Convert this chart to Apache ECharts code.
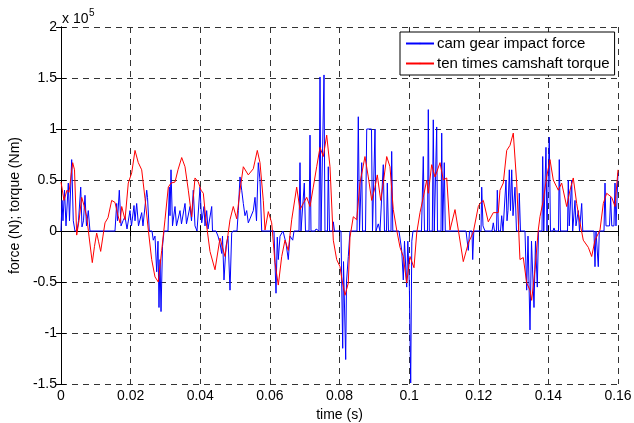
<!DOCTYPE html>
<html>
<head>
<meta charset="utf-8" />
<title>cam gear impact force</title>
<script src="https://cdn.jsdelivr.net/npm/echarts@6/dist/echarts.min.js"></script>
<style>
  html, body { margin: 0; padding: 0; background: #fff; }
  #main { width: 634px; height: 423px; }
</style>
</head>
<body>
<div id="main"></div>
<script>
// time in ms, values in units of 1e5
var forceTime = [0,0.29,0.57,1.01,1.44,2.10,2.44,3.07,3.53,4.02,4.60,5.03,5.66,6.03,6.46,6.89,7.32,7.84,8.33,
  15.51,16.00,16.23,16.75,17.24,17.81,18.39,18.96,19.82,20.25,20.97,21.26,21.74,22.26,23.18,23.55,24.62,24.85,25.13,25.36,
  26.14,26.51,27.00,27.49,27.86,28.15,28.44,28.73,29.16,29.59,
  30.74,31.11,31.31,31.60,32.03,32.75,33.18,34.18,34.61,35.62,36.05,37.06,37.49,38.00,38.49,39.07,
  39.93,40.42,41.08,41.36,41.85,42.23,43.29,43.52,44.52,45.10,45.67,46.16,46.39,46.82,47.40,47.97,48.55,49.03,49.41,
  50.56,50.93,51.42,51.91,52.37,52.85,53.34,53.80,54.29,55.24,55.73,56.16,56.67,57.16,57.65,
  61.18,61.76,62.13,62.42,62.91,63.77,64.63,65.29,65.78,66.56,66.93,
  68.37,68.65,68.94,69.51,69.89,70.23,71.24,71.53,71.81,72.96,73.25,74.11,74.40,74.69,75.26,75.55,75.83,
  76.55,76.78,77.13,77.99,78.22,78.56,
  80.43,80.63,80.92,81.15,81.43,81.78,82.01,82.53,83.02,
  85.03,85.40,85.75,86.03,86.38,86.61,87.47,87.82,89.19,89.48,90.05,90.20,90.48,91.14,91.63,92.58,92.92,
  93.50,93.73,94.07,94.79,94.99,95.31,
  97.09,97.87,98.33,98.67,99.30,99.62,100.05,100.45,100.77,101.11,
  103.55,104.07,104.41,105.28,105.51,105.80,106.66,106.94,107.23,107.72,107.92,108.15,109.16,109.36,109.64,
  109.96,110.10,110.39,
  116.34,117.00,117.35,118.06,118.26,118.58,
  120.65,120.85,121.22,121.80,123.81,124.18,124.52,125.10,125.33,125.67,126.25,126.59,126.97,
  127.54,127.83,128.12,128.40,128.78,129.12,129.47,129.84,130.41,130.84,131.42,131.65,131.99,
  133.28,133.77,134.15,134.72,135.15,135.87,136.30,136.82,137.16,
  138.17,138.37,138.68,139.11,139.31,139.60,140.03,140.26,140.60,141.32,141.61,141.90,142.91,143.13,143.48,
  145.49,145.72,146.00,146.50,146.70,146.98,147.36,147.65,147.93,148.59,148.94,149.37,149.57,149.88,
  153.10,153.39,153.68,154.11,154.34,154.63,
  155.98,156.27,156.55,157.56,157.89,158.21,158.84,159.14,159.42,159.71,160.0];
var forceValue = [0,0.3,0.1,0.4,0.05,0.47,0.1,0.7,0.1,0,0,0.1,0.43,0.04,0.1,0.35,0.05,0.2,0,
  0,0.27,0.1,0.4,0.05,0.1,0.14,0.02,0.2,0.05,0.25,0.1,0.27,0.05,0.18,0.05,0.4,0.33,0.33,0,
  0,-0.09,-0.05,-0.4,-0.1,-0.75,-0.28,-0.79,-0.15,0,
  0,0.43,0.15,0.6,0.05,0.24,0.05,0.2,0.07,0.27,0.07,0.24,0.1,0.4,0.05,0,
  0.43,0.08,0.24,0.05,0.2,0.02,0.24,0,0,-0.05,-0.12,-0.22,-0.05,-0.48,-0.15,-0.05,-0.58,-0.02,0,
  0,0.2,0.53,0.4,0.27,0.15,0.2,0.08,0.12,0.2,0.33,0.1,0.67,0.5,0,
  0,-0.61,-0.06,-0.28,-0.05,0,-0.12,-0.28,-0.05,-0.09,0,
  0,0.67,0,0,0.47,0,0,0.94,0,0,0.02,0,1.51,0,0,1.53,0,
  0,0.63,0,0,0.09,0,
  0,-0.51,-1.15,-0.3,-0.3,-1.26,-0.5,-0.25,0,
  0,1.12,0,0,0.67,0,0,1.0,1.0,0,0,1.0,0,0.07,0,0.65,0,
  0,0.47,0,0,0.78,0,
  0,-0.19,-0.48,-0.1,-0.55,-0.1,-0.51,-1.49,-0.1,0,
  0,0.73,0,0,1.19,0,0,1.09,0,0,1.02,0,0,0.96,0,
  0,0.67,0,
  0,-0.19,0,0,-0.28,0,
  0,0.43,0.05,0,0,0.08,0,0,0.4,0,0,0.15,0,
  0,0.5,0.1,0.2,0.6,0.2,0.6,0.15,0.43,0,0,0.37,0,
  0,-0.58,-0.05,-0.97,-0.1,-0.75,-0.1,-0.55,0,
  0,0.73,0,0,0.82,0,0,0.92,0,0,0.03,0,0,0.7,0,
  0,0.5,0.05,0.05,0.5,0,0,0.3,0.05,0.2,0,0,0.27,0,
  0,-0.35,0,0,-0.35,0,
  0,0.47,0.05,0.05,0.33,0.05,0.05,0.47,0.05,0.05,0.57];

var torqueTime = [0,0.86,1.72,2.30,3.36,3.88,4.51,5.17,5.95,6.61,7.38,8.04,8.99,9.62,10.25,10.77,11.40,12.06,12.64,13.50,
  14.56,15.51,16.37,16.95,17.44,18.39,19.33,20.31,21.26,22.20,23.18,24.13,25.08,26.05,27.00,27.95,28.93,29.87,
  30.82,31.60,32.75,33.61,34.67,35.62,36.57,37.54,38.49,39.44,40.22,40.88,41.65,42.80,44.24,45.67,47.11,48.55,
  49.49,50.47,51.42,52.37,53.80,55.24,56.39,57.16,58.11,58.60,59.55,60.52,61.47,62.42,63.40,64.34,65.29,66.27,
  67.70,68.65,69.60,70.58,71.53,72.47,73.45,74.40,75.35,76.32,77.27,78.22,79.19,80.14,80.72,81.58,82.53,83.02,
  83.96,84.94,85.88,87.32,88.27,89.25,90.20,90.86,91.83,92.58,93.56,94.50,95.45,96.43,97.38,98.33,99.30,100.25,
  101.40,102.18,103.12,104.07,105.05,105.51,106.48,107.43,108.87,109.82,110.80,111.74,113.18,114.13,115.56,117.00,
  118.44,119.87,120.36,121.31,122.74,124.18,125.61,126.10,127.05,128.03,128.98,129.92,130.90,131.84,132.79,133.77,
  134.72,135.20,136.15,137.10,137.59,138.54,139.51,140.46,141.41,142.85,143.82,145.26,146.21,147.15,148.13,149.08,
  150.03,151.47,152.44,153.39,154.83,155.78,156.75,158.19,159.14,160.0];
var torqueValue = [0.48,0.3,0.4,0.38,0.67,0.6,-0.04,0.1,0.33,0.25,0.14,-0.05,-0.31,-0.15,-0.02,-0.1,-0.2,-0.05,0.08,0.13,
  0.3,0.28,0.15,0.08,0.24,0.11,0.47,0.57,0.79,0.67,0.6,0.32,0.01,-0.28,-0.45,-0.5,-0.19,0.11,
  0.43,0.47,0.48,0.6,0.72,0.63,0.4,0.14,0.52,0.48,0.4,0.37,0.1,-0.2,-0.38,-0.07,-0.25,0.11,
  0.24,0.12,0.4,0.63,0.55,0.61,0.79,0.67,0.3,0.01,0.19,0.08,-0.31,-0.53,-0.25,-0.09,-0.19,0.11,
  0.43,0.21,0.27,0.33,0.24,0.43,0.63,0.82,0.73,0.94,0.63,-0.09,-0.28,-0.35,-0.48,-0.63,-0.51,-0.06,
  0.14,0.11,0.47,0.73,0.53,0.3,0.43,0.55,0.3,0.47,0.73,0.63,0.21,0.01,-0.16,-0.25,-0.51,-0.25,
  -0.36,-0.02,0.18,0.33,0.5,0.37,0.65,0.53,0.67,0.5,0.52,0.01,0.21,0.01,-0.3,-0.12,
  -0.01,0.24,0.27,0.3,0.09,0.18,0.18,0.4,0.47,0.79,0.84,0.96,0.47,-0.28,-0.26,-0.51,
  -0.58,-0.68,-0.38,0.01,0.14,0.3,0.53,0.7,0.5,0.4,0.47,0.24,0.4,0.52,0.27,0.08,
  -0.09,-0.16,-0.25,-0.09,0.01,0.27,0.37,0.33,0.24,0.6];

var seriesNames = ['cam gear impact force', 'ten times camshaft torque'];
var seriesColors = ['#0000ff', '#ff0000'];
var xTicks = [0, 0.02, 0.04, 0.06, 0.08, 0.1, 0.12, 0.14, 0.16];
var yTicks = [-1.5, -1, -0.5, 0, 0.5, 1, 1.5, 2];

function pairs(t, v) {
  var out = [];
  for (var i = 0; i < t.length; i++) out.push([t[i] / 1000, v[i]]);
  return out;
}

var myChart = echarts.init(document.getElementById('main'));
var font = 'Liberation Sans, Arial, sans-serif';
var axisLine = { show: true, lineStyle: { color: '#000', width: 1 } };
var tick = { show: true, inside: true, length: 5, lineStyle: { color: '#000' } };
var grid = { show: true, lineStyle: { color: '#333', type: [6, 5], width: 1 } };

myChart.setOption({
  animation: false,
  backgroundColor: '#fff',
  grid: { left: 61, right: 16, top: 27, bottom: 39, show: false, outerBoundsMode: 'none', containLabel: false },
  graphic: [
    { type: 'text', left: 62, top: 12, style: { text: 'x 10', font: '14px ' + font, fill: '#000' } },
    { type: 'text', left: 89, top: 8, style: { text: '5', font: '10px ' + font, fill: '#000' } }
  ],
  legend: {
    data: seriesNames,
    orient: 'vertical',
    left: 400, top: 32,
    itemWidth: 28, itemHeight: 2, itemGap: 5,
    padding: [4, 5, 4, 5],
    borderColor: '#000', borderWidth: 1, backgroundColor: '#fff',
    textStyle: { fontFamily: font, fontSize: 15, color: '#000', padding: [0, 0, 0, -2] }
  },
  xAxis: [{
    type: 'value', min: xTicks[0], max: xTicks[xTicks.length - 1], interval: 0.02,
    name: 'time (s)', nameLocation: 'middle', nameGap: 18,
    nameTextStyle: { fontFamily: font, fontSize: 14, color: '#000' },
    axisLine: axisLine, axisTick: tick, splitLine: grid,
    axisLabel: { fontFamily: font, fontSize: 14, color: '#000', margin: 5,
      formatter: function (v) { return String(parseFloat(v.toFixed(2))); } }
  }, {
    type: 'value', position: 'top', min: xTicks[0], max: xTicks[xTicks.length - 1], interval: 0.02,
    axisLine: axisLine, axisTick: tick, splitLine: { show: false }, axisLabel: { show: false }
  }],
  yAxis: [{
    type: 'value', min: yTicks[0], max: yTicks[yTicks.length - 1], interval: 0.5,
    name: 'force (N); torque (Nm)', nameLocation: 'middle', nameGap: 27,
    nameTextStyle: { fontFamily: font, fontSize: 14, color: '#000' },
    axisLine: axisLine, axisTick: tick, splitLine: grid,
    axisLabel: { fontFamily: font, fontSize: 14, color: '#000', margin: 4 }
  }, {
    type: 'value', position: 'right', min: yTicks[0], max: yTicks[yTicks.length - 1], interval: 0.5,
    axisLine: axisLine, axisTick: tick, splitLine: { show: false }, axisLabel: { show: false }
  }],
  series: [{
    name: seriesNames[0], type: 'line', symbol: 'none',
    lineStyle: { color: seriesColors[0], width: 1 }, itemStyle: { color: seriesColors[0] },
    data: pairs(forceTime, forceValue)
  }, {
    name: seriesNames[1], type: 'line', symbol: 'none',
    lineStyle: { color: seriesColors[1], width: 1 }, itemStyle: { color: seriesColors[1] },
    data: pairs(torqueTime, torqueValue)
  }]
});
</script>
</body>
</html>
